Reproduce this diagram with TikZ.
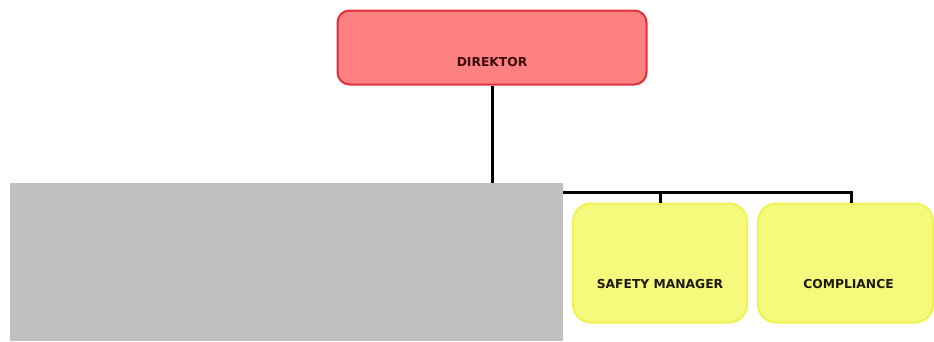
\documentclass[tikz,border=0pt]{standalone}
\usepackage{fontspec}
\setmainfont{DejaVu Sans}
\definecolor{dirfill}{HTML}{FF8080}
\definecolor{dirline}{HTML}{E0303C}
\definecolor{yelfill}{HTML}{F6FA7C}
\definecolor{yelline}{HTML}{EEF252}
\definecolor{graybox}{HTML}{C0C0C0}
\definecolor{txtdark}{HTML}{1E1A0A}
\definecolor{txtdir}{HTML}{3A0A0A}
\tikzset{
  x=1pt, y=-1pt,
  boxtext/.style={font=\fontsize{12.3pt}{14pt}\selectfont\bfseries, text=txtdark, inner sep=0pt, text depth=0pt},
  dirbox/.style={boxtext, text=txtdir, draw=dirline, fill=dirfill, line width=2pt, rounded corners=12pt,
    minimum width=309pt, minimum height=74pt, text height=38pt},
  yelbox/.style={boxtext, draw=yelline, fill=yelfill, line width=2pt, rounded corners=18pt,
    minimum width=174pt, minimum height=119pt, text height=51pt},
  conn/.style={draw=black, line width=3pt},
}
\begin{document}
\begin{tikzpicture}
\useasboundingbox (0,0) rectangle (934,341);
\node[dirbox] (dir) at (492,47.5) {DIREKTOR};
\node[yelbox] (safety) at (660,263) {SAFETY MANAGER};
\node[yelbox, minimum width=175pt, text width=175pt, align=center] (comp) at (845.5,263) {\hspace*{6pt}COMPLIANCE};
\coordinate (junc) at (492,192);
\draw[conn] (dir.south) -- (junc);
\draw[conn] (junc) -| (safety.north);
\draw[conn] (junc) -| (comp.north -| 851,0);
\fill[graybox] (10,183) rectangle (563,341);
\end{tikzpicture}
\end{document}
